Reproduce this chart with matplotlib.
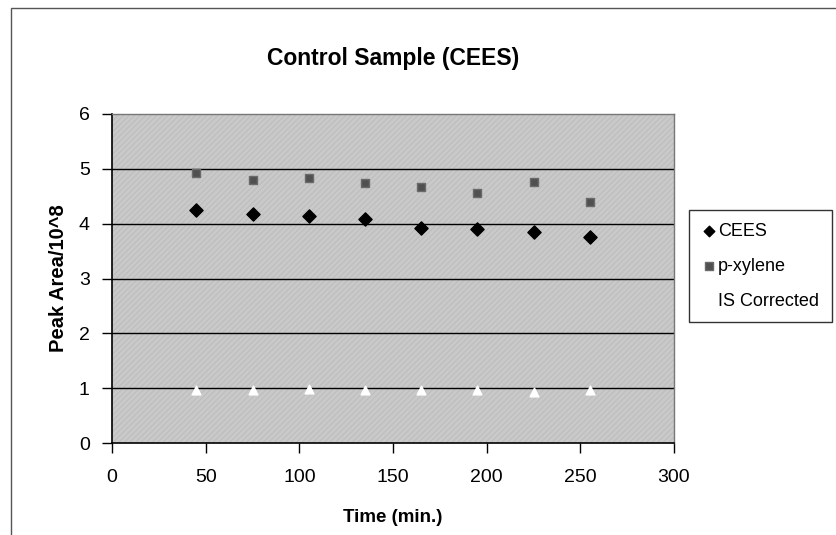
import matplotlib.pyplot as plt
from matplotlib.patches import Rectangle

plt.rcParams["font.family"] = ["Liberation Sans", "DejaVu Sans"]
plt.rcParams["hatch.linewidth"] = 0.6

# Data
time_min = [45, 75, 105, 135, 165, 195, 225, 255]
cees = [4.25, 4.18, 4.14, 4.09, 3.93, 3.90, 3.84, 3.76]
p_xylene = [4.92, 4.79, 4.84, 4.74, 4.66, 4.56, 4.76, 4.39]
is_corrected = [0.97, 0.97, 0.98, 0.97, 0.97, 0.97, 0.93, 0.96]

W, H = 836, 535


def main():
    fig = plt.figure(figsize=(W / 100, H / 100), dpi=100)
    fig.patch.set_facecolor("white")

    # outer chart border
    fig.patches.append(
        Rectangle((11 / W, -0.01), 1.0, (H - 8) / H + 0.01, transform=fig.transFigure,
                  fill=False, edgecolor="#555555", linewidth=1.0)
    )

    ax = fig.add_axes([112 / W, (H - 443) / H, (674 - 112) / W, (443 - 114) / H])
    ax.set_facecolor("#c9c9c9")
    ax.add_patch(Rectangle((0, 0), 1, 1, transform=ax.transAxes, facecolor="none",
                           edgecolor="#bababa", hatch="//////", linewidth=0, zorder=0))

    for y in range(1, 6):
        ax.axhline(y, color="black", linewidth=1.0, zorder=1)

    ax.scatter(time_min, cees, marker="D", s=45, color="black", zorder=3, label="CEES")
    ax.scatter(time_min, p_xylene, marker="s", s=40, color="#505050",
               edgecolors="#6a6a6a", zorder=3, label="p-xylene")
    ax.scatter(time_min, is_corrected, marker="^", s=40, color="white", zorder=3,
               label="IS Corrected")

    ax.set_xlim(0, 300)
    ax.set_ylim(0, 6)
    ax.set_xticks(range(0, 301, 50))
    ax.set_yticks(range(0, 7))
    ax.tick_params(axis="both", direction="out", length=7, width=1, labelsize=14,
                   color="black")
    ax.tick_params(axis="x", pad=12)
    ax.tick_params(axis="y", pad=9)

    for side in ["left", "bottom"]:
        ax.spines[side].set_color("black")
        ax.spines[side].set_linewidth(1.2)
    for side in ["top", "right"]:
        ax.spines[side].set_color("#777777")
        ax.spines[side].set_linewidth(1.0)

    ax.set_title("Control Sample (CEES)", fontsize=16.5, fontweight="bold", pad=35)
    ax.set_xlabel("Time (min.)", fontsize=13.5, fontweight="bold", labelpad=16)
    ax.set_ylabel("Peak Area/10^8", fontsize=14.5, fontweight="bold", labelpad=8)

    leg = fig.legend(loc="upper left", bbox_to_anchor=(689 / W, (H - 210) / H),
                     fontsize=13, frameon=True, fancybox=False, edgecolor="black",
                     handletextpad=0.1, handlelength=0.8, borderpad=0.7,
                     labelspacing=1.0, markerscale=0.8, borderaxespad=0)
    leg.get_frame().set_linewidth(1.0)

    fig.savefig("out.png", dpi=100)


if __name__ == "__main__":
    main()
